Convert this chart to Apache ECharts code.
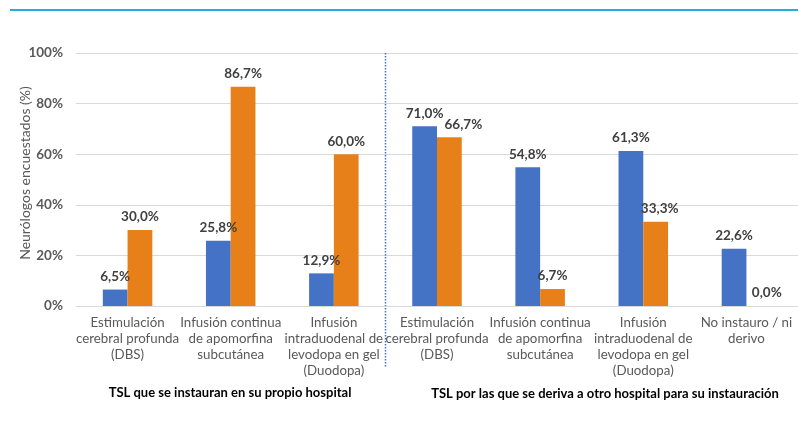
<!DOCTYPE html>
<html>
<head>
<meta charset="utf-8">
<script src="https://cdn.jsdelivr.net/npm/echarts@6/dist/echarts.min.js"></script>
<style>
  html, body { margin: 0; padding: 0; background: #fff; }
  #chart { width: 798px; height: 429px; }
</style>
</head>
<body>
<div id="chart"></div>
<script>
// Categories: first three are therapies started in the own hospital,
// the remaining four are referrals to another hospital.
const categories = [
  'Estimulación\ncerebral profunda\n(DBS)',
  'Infusión continua\nde apomorfina\nsubcutánea',
  'Infusión\nintraduodenal de\nlevodopa en gel\n(Duodopa)',
  'Estimulación\ncerebral profunda\n(DBS)',
  'Infusión continua\nde apomorfina\nsubcutánea',
  'Infusión\nintraduodenal de\nlevodopa en gel\n(Duodopa)',
  'No instauro / ni\nderivo'
];
const seriesBlue = [6.5, 25.8, 12.9, 71.0, 54.8, 61.3, 22.6];
const seriesOrange = [30.0, 86.7, 60.0, 66.7, 6.7, 33.3, 0.0];
const yTicks = [0, 20, 40, 60, 80, 100];
const groupTitles = [
  'TSL que se instauran en su propio hospital',
  'TSL por las que se deriva a otro hospital para su instauración'
];

const FONT = 'Lato, "Open Sans", sans-serif';
const fmt = v => v.toFixed(1).replace('.', ',') + '%';

const chart = echarts.init(document.getElementById('chart'), null, { renderer: 'canvas' });

const labelStyle = {
  show: true,
  position: 'top',
  distance: 6,
  fontFamily: FONT,
  fontWeight: 'bold',
  fontSize: 13.5,
  color: '#404040',
  formatter: p => fmt(p.value)
};

// Nudge labels that would collide with the neighbouring bar's label
const orangeShift = { 3: 14, 5: 4, 6: 8 };
const orangeData = seriesOrange.map((v, i) =>
  orangeShift[i] ? { value: v, label: { offset: [orangeShift[i], 0] } } : v
);

chart.setOption({
  animation: false,
  grid: { left: 76, top: 53, width: 730, height: 253, containLabel: false },
  xAxis: {
    type: 'category',
    data: categories,
    axisLine: { show: true, lineStyle: { color: '#d9d9d9' } },
    axisTick: { show: false },
    axisLabel: {
      interval: 0,
      margin: 9,
      fontFamily: FONT,
      fontSize: 13.3,
      lineHeight: 16,
      color: '#595959'
    }
  },
  yAxis: {
    type: 'value',
    min: yTicks[0],
    max: yTicks[yTicks.length - 1],
    interval: 20,
    axisLine: { show: false },
    axisTick: { show: false },
    splitLine: { lineStyle: { color: '#d9d9d9' } },
    axisLabel: {
      margin: 13,
      fontFamily: FONT,
      fontSize: 13.5,
      fontWeight: 'bold',
      color: '#595959',
      formatter: v => v + '%'
    }
  },
  series: [
    {
      type: 'bar',
      data: seriesBlue,
      barGap: '0%',
      barCategoryGap: '52%',
      itemStyle: { color: '#4472C4' },
      label: labelStyle
    },
    {
      type: 'bar',
      data: orangeData,
      barGap: '0%',
      barCategoryGap: '52%',
      itemStyle: { color: '#E8801A' },
      label: labelStyle
    }
  ]
});

// Decorations: header rule, axis title, dotted divider, group titles
const x2 = chart.convertToPixel({ xAxisIndex: 0 }, 2);
const x3 = chart.convertToPixel({ xAxisIndex: 0 }, 3);
const divX = Math.round((x2 + x3) / 2) + 0.5;
const yTop = chart.convertToPixel({ yAxisIndex: 0 }, 100);

chart.setOption({
  graphic: [
    {
      type: 'line',
      shape: { x1: 10, y1: 10, x2: 798, y2: 10 },
      style: { stroke: '#29ABE2', lineWidth: 2 }
    },
    {
      type: 'text',
      x: 25,
      y: 173,
      rotation: Math.PI / 2,
      style: {
        text: 'Neurólogos encuestados (%)',
        fontFamily: FONT, fontSize: 14, fill: '#595959',
        align: 'center', verticalAlign: 'middle'
      }
    },
    {
      type: 'line',
      shape: { x1: divX, y1: yTop, x2: divX, y2: 368 },
      style: { stroke: '#4472C4', lineWidth: 1.5, lineDash: [1.5, 1.5] }
    },
    {
      type: 'text',
      x: 230,
      y: 393,
      style: {
        text: groupTitles[0],
        fontFamily: FONT, fontSize: 13, fontWeight: 'bold', fill: '#000',
        align: 'center', verticalAlign: 'middle'
      }
    },
    {
      type: 'text',
      x: 605,
      y: 394,
      style: {
        text: groupTitles[1],
        fontFamily: FONT, fontSize: 13, fontWeight: 'bold', fill: '#000',
        align: 'center', verticalAlign: 'middle'
      }
    }
  ]
});
</script>
</body>
</html>
